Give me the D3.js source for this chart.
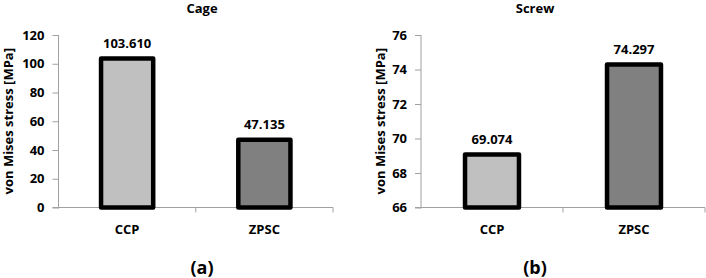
<!DOCTYPE html>
<html>
<head>
<meta charset="utf-8">
<script src="https://cdn.jsdelivr.net/npm/d3@7"></script>
<style>
    body { margin: 0; background: #fff; }
    text { font-family: "Open Sans", "Noto Sans", sans-serif; font-weight: bold; fill: #000; }
    .axis path, .axis line { stroke: #a0a0a0; }
    .axis text { font-size: 13px; }
</style>
</head>
<body>
<svg id="chart" width="706" height="278"></svg>
<script>
// data
var categories = ["CCP", "ZPSC"];
var cageValues = [103.610, 47.135];
var screwValues = [69.074, 74.297];
var cageTicks = [0, 20, 40, 60, 80, 100, 120];
var screwTicks = [66, 68, 70, 72, 74, 76];
var titles = ["Cage", "Screw"];
var panelLabels = ["(a)", "(b)"];
var yTitle = "von Mises stress [MPa]";
var barColors = ["#c0c0c0", "#808080"];

var svg = d3.select("#chart");

// one panel per chart
var panels = [
    { values: cageValues, ticks: cageTicks, title: titles[0], label: panelLabels[0],
      x0: 58.5, x1: 333, titleX: 202, yTitleX: 8.5 },
    { values: screwValues, ticks: screwTicks, title: titles[1], label: panelLabels[1],
      x0: 421, x1: 705, titleX: 535, yTitleX: 380.5 }
];

var plotTop = 35, plotBottom = 207.5;

panels.forEach(function (p) {
    var g = svg.append("g");

    var x = d3.scaleBand()
        .domain(categories)
        .range([p.x0, p.x1]);

    var y = d3.scaleLinear()
        .domain(d3.extent(p.ticks))
        .range([plotBottom, plotTop]);

    // y axis
    g.append("g")
        .attr("class", "axis")
        .attr("transform", "translate(" + p.x0 + ",0)")
        .call(d3.axisLeft(y).tickValues(p.ticks).tickSize(6).tickSizeOuter(0).tickPadding(8))
        .call(s => s.select(".domain").attr("d", "M0," + plotTop + "V" + (plotBottom + 1)));

    // x axis line + ticks at category boundaries
    var xa = g.append("g").attr("class", "axis");
    xa.append("line")
        .attr("x1", p.x0 - 6).attr("x2", p.x1)
        .attr("y1", plotBottom).attr("y2", plotBottom);
    var bounds = categories.map(c => x(c)).concat([x.range()[1]]).slice(1);
    xa.selectAll(".xt")
        .data(bounds)
        .enter().append("line")
        .attr("class", "xt")
        .attr("x1", d => d).attr("x2", d => d)
        .attr("y1", plotBottom).attr("y2", plotBottom + 5);

    // category labels
    g.selectAll(".cat")
        .data(categories)
        .enter().append("text")
        .attr("class", "cat")
        .attr("text-anchor", "middle")
        .attr("font-size", 13)
        .attr("x", d => x(d) + x.bandwidth() / 2)
        .attr("y", plotBottom + 26)
        .text(d => d);

    // bars
    var bw = x.bandwidth() * 0.38;
    g.selectAll(".bar")
        .data(p.values)
        .enter().append("rect")
        .attr("class", "bar")
        .attr("x", (d, i) => x(categories[i]) + x.bandwidth() / 2 - bw / 2)
        .attr("y", d => y(d))
        .attr("width", bw)
        .attr("height", d => plotBottom - y(d))
        .attr("fill", (d, i) => barColors[i])
        .attr("stroke", "#000")
        .attr("stroke-width", 4.5)
        .attr("stroke-linejoin", "round");

    // value labels
    g.selectAll(".val")
        .data(p.values)
        .enter().append("text")
        .attr("class", "val")
        .attr("text-anchor", "middle")
        .attr("font-size", 13)
        .attr("x", (d, i) => x(categories[i]) + x.bandwidth() / 2)
        .attr("y", d => y(d) - 10.5)
        .text(d => d.toFixed(3));

    // title
    g.append("text")
        .attr("text-anchor", "middle")
        .attr("font-size", 13)
        .attr("x", p.titleX)
        .attr("y", 13)
        .text(p.title);

    // y axis title
    g.append("text")
        .attr("text-anchor", "middle")
        .attr("font-size", 13)
        .attr("transform", "translate(" + p.yTitleX + "," + ((plotTop + plotBottom) / 2) + ") rotate(-90)")
        .attr("dy", "0.35em")
        .text(yTitle);

    // panel label
    g.append("text")
        .attr("text-anchor", "middle")
        .attr("font-size", 18)
        .attr("x", p.titleX)
        .attr("y", 274)
        .text(p.label);
});
</script>
</body>
</html>
